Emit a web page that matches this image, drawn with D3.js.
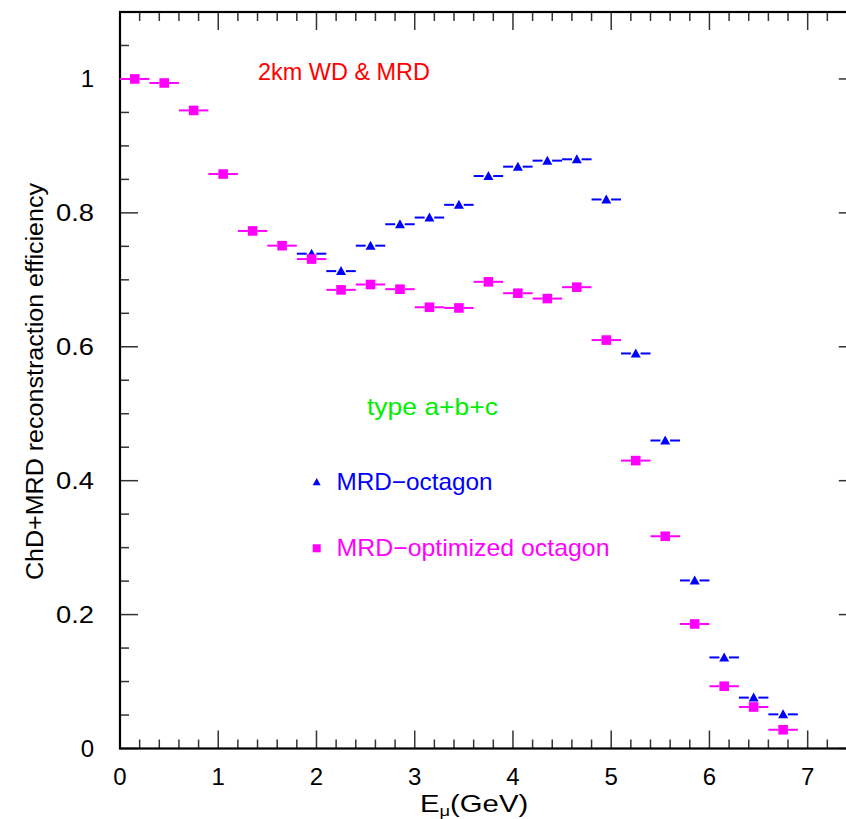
<!DOCTYPE html>
<html>
<head>
<meta charset="utf-8">
<script src="https://cdn.jsdelivr.net/npm/d3@7"></script>
<style>
  html, body { margin: 0; padding: 0; background: #fff; }
  svg { display: block; font-family: "Liberation Sans", Arial, sans-serif; }
</style>
</head>
<body>
<svg id="chart" width="846" height="819"></svg>
<script>
// Muon energy bin centres (GeV); each bin is 0.3 GeV wide
const binCenters = [0.15, 0.45, 0.75, 1.05, 1.35, 1.65, 1.95, 2.25, 2.55, 2.85, 3.15, 3.45,
                    3.75, 4.05, 4.35, 4.65, 4.95, 5.25, 5.55, 5.85, 6.15, 6.45, 6.75];
const binHalfWidth = 0.15;

// MRD-optimized octagon efficiency, all bins
const optimizedEff = [1.000, 0.994, 0.953, 0.858, 0.773, 0.751, 0.731, 0.685, 0.693, 0.686, 0.659, 0.658,
                      0.697, 0.680, 0.672, 0.689, 0.610, 0.430, 0.317, 0.186, 0.093, 0.062, 0.028];

// MRD-octagon efficiency, bins from 1.95 GeV upward
const octagonCenters = [1.95, 2.25, 2.55, 2.85, 3.15, 3.45, 3.75, 4.05, 4.35, 4.65, 4.95, 5.25,
                        5.55, 5.85, 6.15, 6.45, 6.75];
const octagonEff = [0.739, 0.713, 0.751, 0.783, 0.793, 0.812, 0.855, 0.869, 0.878, 0.880, 0.820, 0.590,
                    0.460, 0.251, 0.136, 0.076, 0.051];

const xTickLabels = [0, 1, 2, 3, 4, 5, 6, 7];
const yTickLabels = [0, 0.2, 0.4, 0.6, 0.8, 1];

(function () {
const svg = d3.select("#chart");
const pL = 120, pR = 856.8, pT = 12, pB = 748.5;

const x = d3.scaleLinear().domain([0, 7.5]).range([pL, pR]);
const y = d3.scaleLinear().domain([0, 1.1]).range([pB, pT]);

const MAJ = 18, MIN = 9;
const tickColor = "#333";

// ---- ticks on all four sides ----
const xMinor = d3.range(0, 7.5001, 0.2).filter(v => Math.abs(v - Math.round(v)) > 1e-6);
const yMinor = d3.range(0, 1.1001, 0.05).filter(v => Math.abs(v / 0.2 - Math.round(v / 0.2)) > 1e-6);
const yMajor = d3.range(0, 1.1001, 0.2);

const ticks = svg.append("g").attr("stroke", tickColor).attr("stroke-width", 1.5);
// bottom
xTickLabels.forEach(v => ticks.append("line").attr("x1", x(v)).attr("x2", x(v)).attr("y1", pB).attr("y2", pB - MAJ));
xMinor.forEach(v => ticks.append("line").attr("x1", x(v)).attr("x2", x(v)).attr("y1", pB).attr("y2", pB - MIN));
// top
xTickLabels.forEach(v => ticks.append("line").attr("x1", x(v)).attr("x2", x(v)).attr("y1", pT).attr("y2", pT + MAJ));
xMinor.forEach(v => ticks.append("line").attr("x1", x(v)).attr("x2", x(v)).attr("y1", pT).attr("y2", pT + MIN));
// left
yMajor.forEach(v => ticks.append("line").attr("x1", pL).attr("x2", pL + MAJ).attr("y1", y(v)).attr("y2", y(v)));
yMinor.forEach(v => ticks.append("line").attr("x1", pL).attr("x2", pL + MIN).attr("y1", y(v)).attr("y2", y(v)));
// right
yMajor.forEach(v => ticks.append("line").attr("x1", pR).attr("x2", pR - MAJ).attr("y1", y(v)).attr("y2", y(v)));
yMinor.forEach(v => ticks.append("line").attr("x1", pR).attr("x2", pR - MIN).attr("y1", y(v)).attr("y2", y(v)));

// frame
svg.append("rect").attr("x", pL).attr("y", pT)
  .attr("width", pR - pL).attr("height", pB - pT)
  .attr("fill", "none").attr("stroke", "#000").attr("stroke-width", 2.2);

// ---- tick labels ----
const labelSize = 24;
svg.append("g").selectAll("text").data(xTickLabels).join("text")
  .attr("x", d => x(d)).attr("y", 785)
  .attr("text-anchor", "middle").attr("font-size", labelSize).attr("fill", "#000")
  .text(d => d);

svg.append("g").selectAll("text").data(yTickLabels).join("text")
  .attr("x", 94).attr("y", d => y(d) + 8.5)
  .attr("text-anchor", "end").attr("font-size", labelSize).attr("fill", "#000")
  .each(function (d) {
    const s = d3.format("")(d);
    const t = d3.select(this).text(s);
    if (s.length > 1) t.attr("textLength", 38).attr("lengthAdjust", "spacingAndGlyphs");
  });

// ---- axis titles ----
const xt = svg.append("text").attr("x", 0).attr("y", 0)
  .attr("transform", "translate(420,812) scale(1.22,1)")
  .attr("font-size", labelSize).attr("fill", "#000");
xt.append("tspan").text("E");
xt.append("tspan").attr("font-size", 15).attr("dy", 4).text("μ");
xt.append("tspan").attr("dy", -4).text("(GeV)");

svg.append("text")
  .attr("transform", "translate(43,381.5) rotate(-90)")
  .attr("text-anchor", "middle").attr("font-size", 23).attr("fill", "#000")
  .attr("textLength", 397).attr("lengthAdjust", "spacingAndGlyphs")
  .text("ChD+MRD reconstraction efficiency");

// ---- annotations ----
function label(txt, x0, base, len, color) {
  svg.append("text").attr("x", x0).attr("y", base)
    .attr("font-size", labelSize).attr("fill", color)
    .attr("textLength", len).attr("lengthAdjust", "spacingAndGlyphs")
    .text(txt);
}
label("2km WD & MRD", 258, 79.5, 172, "#ff0000");
label("type a+b+c", 367, 414.5, 131, "#00ee00");
label("MRD−octagon", 336.5, 489.5, 156, "#0000ff");
label("MRD−optimized octagon", 336.5, 556, 273, "#ff00ff");

// ---- markers ----
const triPath = (cx, cy, w) => {
  const h = w * 0.9;
  return `M${cx - w / 2},${cy + h / 2}L${cx + w / 2},${cy + h / 2}L${cx},${cy - h / 2}Z`;
};

// legend symbols
svg.append("path").attr("d", triPath(316.7, 481.7, 8)).attr("fill", "#0000ff");
svg.append("rect").attr("x", 316.7 - 4).attr("y", 548.3 - 4).attr("width", 8).attr("height", 8).attr("fill", "#ff00ff");

function drawSeries(centers, vals, color, kind) {
  const g = svg.append("g");
  const gap = 4.8;
  centers.forEach((c, i) => {
    const cx = x(c), cy = y(vals[i]);
    const x0 = x(c - binHalfWidth), x1 = x(c + binHalfWidth);
    g.append("line").attr("x1", x0).attr("x2", cx - gap).attr("y1", cy).attr("y2", cy)
      .attr("stroke", color).attr("stroke-width", 2);
    g.append("line").attr("x1", cx + gap).attr("x2", x1).attr("y1", cy).attr("y2", cy)
      .attr("stroke", color).attr("stroke-width", 2);
    if (kind === "square") {
      g.append("rect").attr("x", cx - 4.8).attr("y", cy - 4.8).attr("width", 9.6).attr("height", 9.6)
        .attr("fill", color);
    } else {
      g.append("path").attr("d", triPath(cx, cy - 0.5, 10)).attr("fill", color);
    }
  });
}

drawSeries(octagonCenters, octagonEff, "#0000ff", "triangle");
drawSeries(binCenters, optimizedEff, "#ff00ff", "square");
})();
</script>
</body>
</html>
